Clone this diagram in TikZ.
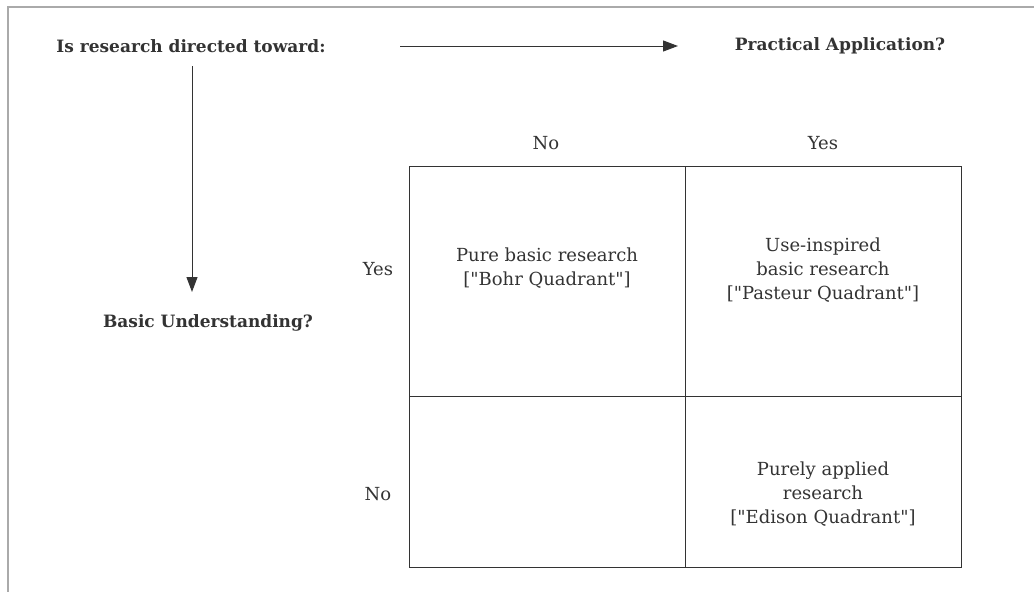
\documentclass[tikz,border=0pt]{standalone}
\usepackage{fontspec}
\setmainfont{DejaVu Serif}[Ligatures=TeXOff]
\usetikzlibrary{arrows.meta}
\definecolor{ink}{HTML}{333333}
\definecolor{frame}{HTML}{AAAAAA}
\begin{document}
\begin{tikzpicture}[x=1pt,y=-1pt,
  every node/.style={text=ink, font=\fontsize{18}{24}\selectfont, inner sep=0pt},
  head/.style={font=\fontsize{17}{24}\selectfont\bfseries},
  celltext/.style={align=center},
  gridline/.style={draw=ink, line width=1pt},
  axis/.style={draw=ink, line width=1pt, -{Triangle[length=15pt,width=11pt]}}]
  \useasboundingbox (0,0) rectangle (1034,592);
  % outer frame (top and left edges)
  \draw[frame, line width=1.2pt] (1034,7) -- (8,7) -- (8,592);
  % headings
  \node[head] (q)   at (191,46) {Is research directed toward:};
  \node[head] (pa)  at (840,46) {Practical Application?};
  \node[head] (bu)  at (208,323) {Basic Understanding?};
  \coordinate (hs) at (400,46);
  \coordinate (he) at (678,46);
  \coordinate (vs) at (192,66);
  \coordinate (ve) at (192,292);
  \draw[axis] (hs) -- (he);
  \draw[axis] (vs) -- (ve);
  % column and row labels
  \node (cno)  at (546,143) {No};
  \node (cyes) at (823,143) {Yes};
  \node (ryes) at (378,269) {Yes};
  \node (rno)  at (378,494) {No};
  % quadrant grid
  \coordinate (tl) at (409,166);
  \coordinate (br) at (961,567);
  \draw[gridline] (tl) rectangle (br);
  \draw[gridline] (685,166) -- (685,567);
  \draw[gridline] (409,396) -- (961,396);
  % quadrant descriptions
  \node[celltext] (bohr)    at (547,268) {Pure basic research\\{[}"Bohr Quadrant"{]}};
  \node[celltext] (pasteur) at (823,270) {Use-inspired\\basic research\\{[}"Pasteur Quadrant"{]}};
  \node[celltext] (edison)  at (823,494) {Purely applied\\research\\{[}"Edison Quadrant"{]}};
\end{tikzpicture}
\end{document}
